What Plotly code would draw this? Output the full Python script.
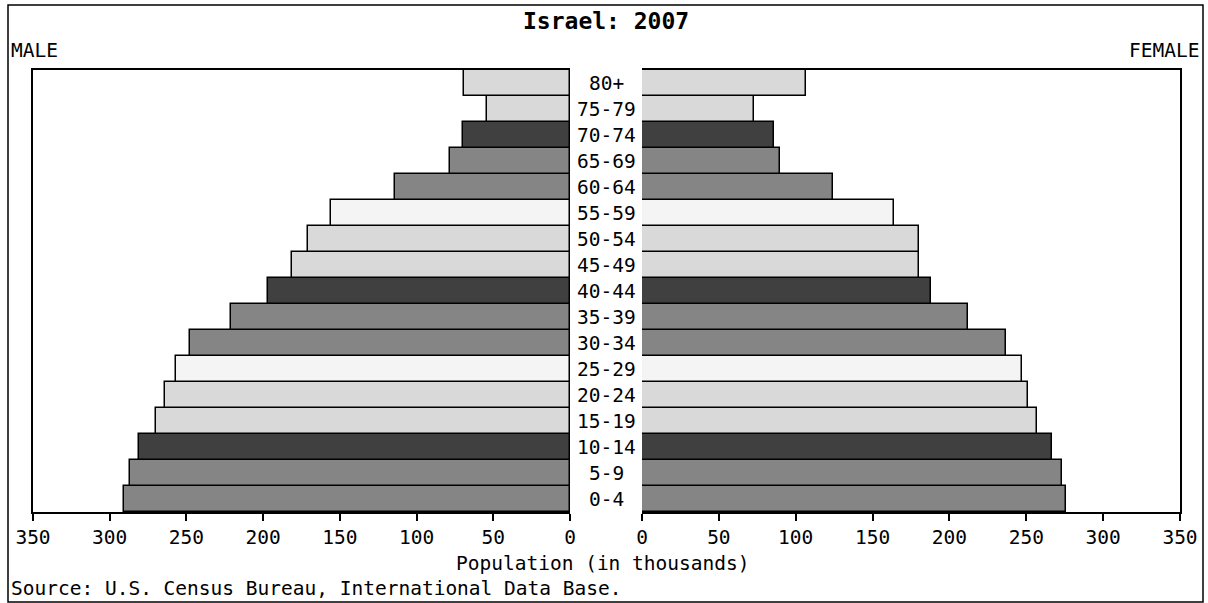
import plotly.graph_objects as go

age_groups = ["0-4", "5-9", "10-14", "15-19", "20-24", "25-29", "30-34", "35-39",
              "40-44", "45-49", "50-54", "55-59", "60-64", "65-69", "70-74", "75-79", "80+"]
male = [291, 287, 281, 270, 264, 257, 248, 221, 197, 181, 171, 156, 114, 78, 70, 54, 69]
female = [276, 273, 267, 257, 251, 247, 237, 212, 188, 180, 180, 164, 124, 90, 86, 73, 107]
tick_vals = [0, 50, 100, 150, 200, 250, 300, 350]

MID, DARK, LIGHT, PALE = "#858585", "#404040", "#d9d9d9", "#f4f4f4"
palette = [MID, MID, DARK, LIGHT, LIGHT, PALE]
colors = [palette[i % 6] for i in range(len(age_groups))]

W, H = 1208, 603
def px(x): return x / W
def py(y): return 1 - y / H

FONT = "DejaVu Sans Mono, Liberation Mono, monospace"
FS = 19.5

fig = go.Figure()
fig.add_trace(go.Bar(y=age_groups, x=male, orientation="h", xaxis="x", yaxis="y",
                     marker=dict(color=colors, line=dict(color="#000", width=1.5)),
                     width=1, showlegend=False))
fig.add_trace(go.Bar(y=age_groups, x=female, orientation="h", xaxis="x2", yaxis="y2",
                     marker=dict(color=colors, line=dict(color="#000", width=1.5)),
                     width=1, showlegend=False))

ydom = [py(512), py(70)]
axis_common = dict(tickvals=tick_vals, ticktext=[str(v) for v in tick_vals],
                   ticks="outside", ticklen=7, tickwidth=1.5, tickcolor="#000",
                   showline=True, linecolor="#000", linewidth=1.5, mirror=True,
                   showgrid=False, zeroline=False, fixedrange=True, automargin=False,
                   tickfont=dict(family=FONT, size=FS, color="#000"))
yaxis_common = dict(showticklabels=False, showline=True, linecolor="#000", linewidth=1.5,
                    showgrid=False, zeroline=False, ticks="", range=[-0.5, 16.5],
                    fixedrange=True, automargin=False)
fig.update_layout(
    template="none",
    width=W, height=H, autosize=False, margin=dict(l=0, r=0, t=0, b=0, pad=0),
    paper_bgcolor="white", plot_bgcolor="white", bargap=0,
    xaxis=dict(domain=[px(33), px(570)], range=[350, 0], anchor="y", **axis_common),
    xaxis2=dict(domain=[px(642), px(1180)], range=[0, 350], anchor="y2", **axis_common),
    yaxis=dict(domain=ydom, anchor="x", side="left", **yaxis_common),
    yaxis2=dict(domain=ydom, anchor="x2", side="right", **yaxis_common),
    font=dict(family=FONT, size=FS, color="#000"),
)

for g in age_groups:
    fig.add_annotation(x=px(606), xref="paper", y=g, yref="y", text=g,
                       showarrow=False, xanchor="center", yanchor="middle",
                       font=dict(family=FONT, size=FS, color="#000"))

fig.add_annotation(x=px(606), y=py(21), xref="paper", yref="paper", text="<b>Israel: 2007</b>",
                   showarrow=False, xanchor="center", yanchor="middle",
                   font=dict(family=FONT, size=23, color="#000"))
fig.add_annotation(x=px(9), y=py(51), xref="paper", yref="paper", text="MALE",
                   showarrow=False, xanchor="left", yanchor="middle",
                   font=dict(family=FONT, size=FS, color="#000"))
fig.add_annotation(x=px(1201), y=py(51), xref="paper", yref="paper", text="FEMALE",
                   showarrow=False, xanchor="right", yanchor="middle",
                   font=dict(family=FONT, size=FS, color="#000"))
fig.add_annotation(x=px(603), y=py(563), xref="paper", yref="paper",
                   text="Population (in thousands)",
                   showarrow=False, xanchor="center", yanchor="middle",
                   font=dict(family=FONT, size=FS, color="#000"))
fig.add_annotation(x=px(9), y=py(588), xref="paper", yref="paper",
                   text="Source: U.S. Census Bureau, International Data Base.",
                   showarrow=False, xanchor="left", yanchor="middle",
                   font=dict(family=FONT, size=FS, color="#000"))

fig.add_shape(type="rect", xref="paper", yref="paper",
              x0=px(8), x1=px(1203), y0=py(602), y1=py(5),
              line=dict(color="#000", width=1.5), fillcolor="rgba(0,0,0,0)", layer="below")

fig.write_html("out.html", config={"displayModeBar": False},
               post_script="document.body.style.margin='0';document.body.style.overflow='hidden';")
